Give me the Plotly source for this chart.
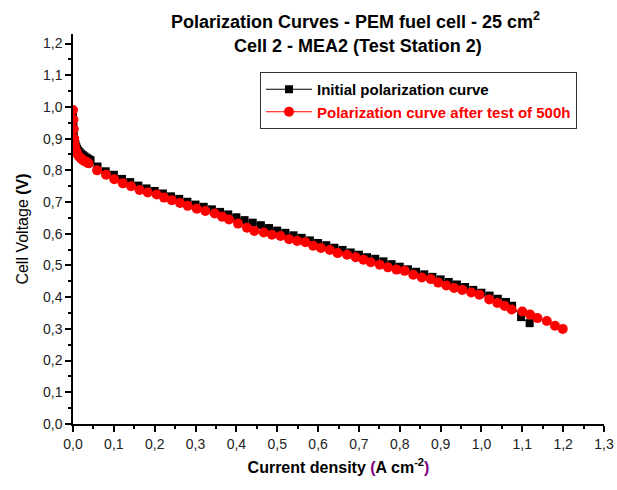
import plotly.graph_objects as go

# Polarization curve after test of 500h (red)
red_j = [0.000, 0.001, 0.002, 0.003, 0.004, 0.006, 0.008, 0.010, 0.013, 0.016, 0.020,
         0.024, 0.028, 0.033, 0.038, 0.059, 0.081, 0.101, 0.122, 0.142, 0.163, 0.183,
         0.205, 0.223, 0.242, 0.262, 0.281, 0.303, 0.324, 0.347, 0.365, 0.382, 0.404,
         0.426, 0.444, 0.467, 0.487, 0.508, 0.529, 0.549, 0.569, 0.588, 0.607, 0.629,
         0.648, 0.671, 0.692, 0.711, 0.729, 0.751, 0.771, 0.792, 0.812, 0.833, 0.854,
         0.876, 0.894, 0.914, 0.933, 0.953, 0.975, 0.995, 1.019, 1.039, 1.057, 1.074,
         1.100, 1.119, 1.137, 1.160, 1.180, 1.199]
red_v = [0.990, 0.960, 0.930, 0.900, 0.880, 0.868, 0.860, 0.853, 0.847, 0.842, 0.837,
         0.833, 0.829, 0.826, 0.822, 0.800, 0.786, 0.772, 0.759, 0.750, 0.738, 0.730,
         0.724, 0.714, 0.706, 0.697, 0.688, 0.679, 0.672, 0.664, 0.654, 0.645, 0.632,
         0.619, 0.609, 0.604, 0.597, 0.593, 0.583, 0.577, 0.573, 0.562, 0.555, 0.549,
         0.539, 0.534, 0.526, 0.518, 0.510, 0.502, 0.494, 0.487, 0.483, 0.471, 0.462,
         0.457, 0.446, 0.437, 0.429, 0.423, 0.415, 0.408, 0.393, 0.382, 0.372, 0.361,
         0.355, 0.345, 0.334, 0.325, 0.310, 0.300]

# Initial polarization curve (black)
blk_j = [0.000, 0.001, 0.002, 0.004, 0.006, 0.008, 0.010, 0.013, 0.016, 0.020, 0.024,
         0.028, 0.033, 0.038, 0.043, 0.060, 0.080, 0.100, 0.120, 0.140, 0.160, 0.180,
         0.200, 0.220, 0.240, 0.260, 0.280, 0.300, 0.320, 0.340, 0.360, 0.380, 0.400,
         0.420, 0.440, 0.460, 0.480, 0.500, 0.520, 0.540, 0.560, 0.580, 0.600, 0.620,
         0.640, 0.660, 0.680, 0.700, 0.720, 0.740, 0.760, 0.780, 0.800, 0.820, 0.840,
         0.860, 0.880, 0.900, 0.920, 0.940, 0.960, 0.980, 1.000, 1.020, 1.040, 1.060,
         1.075, 1.097, 1.118]
blk_v = [0.975, 0.945, 0.915, 0.893, 0.882, 0.874, 0.868, 0.862, 0.857, 0.852, 0.848,
         0.844, 0.840, 0.836, 0.832, 0.812, 0.797, 0.786, 0.773, 0.763, 0.752, 0.743,
         0.735, 0.727, 0.718, 0.710, 0.701, 0.692, 0.685, 0.677, 0.669, 0.661, 0.652,
         0.643, 0.635, 0.627, 0.618, 0.610, 0.603, 0.595, 0.587, 0.579, 0.571, 0.564,
         0.556, 0.549, 0.541, 0.534, 0.526, 0.521, 0.513, 0.504, 0.496, 0.488, 0.480,
         0.472, 0.464, 0.456, 0.448, 0.440, 0.432, 0.423, 0.414, 0.405, 0.395, 0.385,
         0.373, 0.337, 0.318]

series_names = ["Initial polarization curve", "Polarization curve after test of 500h"]
title_lines = ["Polarization Curves - PEM fuel cell - 25 cm<sup>2</sup>",
               "Cell 2 - MEA2 (Test Station 2)"]

x_ticks = [round(0.1 * i, 1) for i in range(14)]
y_ticks = [round(0.1 * i, 1) for i in range(13)]

FONT = "Arial, 'Liberation Sans', sans-serif"

fig = go.Figure()
fig.add_trace(go.Scatter(
    x=blk_j, y=blk_v, mode="lines+markers",
    name="<b>" + series_names[0] + "</b>",
    line=dict(color="black", width=1),
    marker=dict(symbol="square", size=8, color="black"),
))
fig.add_trace(go.Scatter(
    x=red_j, y=red_v, mode="lines+markers",
    name="<b><span style='color:red'>" + series_names[1] + "</span></b>",
    line=dict(color="red", width=1),
    marker=dict(symbol="circle", size=10, color="red"),
))

axis_common = dict(
    showgrid=False, zeroline=False, showline=True, linecolor="black", linewidth=1.5,
    ticks="outside", ticklen=6, tickwidth=1.5, tickcolor="black",
    tickformat=".1f", tickfont=dict(family=FONT, size=14, color="#222"),
    mirror=False, automargin=False,
)

fig.update_layout(
    width=617, height=490,
    margin=dict(l=73, r=13, t=34, b=66),
    paper_bgcolor="white", plot_bgcolor="white",
    separators=", ",
    font=dict(family=FONT, color="black"),
    xaxis=dict(
        range=[0, 1.3], tickvals=x_ticks,
        minor=dict(dtick=0.05, tick0=0, ticks="outside", ticklen=3, tickwidth=1.5, tickcolor="black"),
        title=dict(
            text="<b>Current density <span style='color:#800080'>(</span>A cm<sup>-2</sup><span style='color:#800080'>)</span></b>",
            font=dict(family=FONT, size=16, color="black"), standoff=11,
        ),
        **axis_common,
    ),
    yaxis=dict(
        range=[0, 1.23], tickvals=y_ticks,
        minor=dict(dtick=0.05, tick0=0, ticks="outside", ticklen=3, tickwidth=1.5, tickcolor="black"),
        title=dict(
            text="Cell Voltage <b>(V)</b>",
            font=dict(family=FONT, size=16, color="black"), standoff=10,
        ),
        **axis_common,
    ),
    legend=dict(
        x=(260 - 73) / 531, y=(424 - 72) / 390, xanchor="left", yanchor="top",
        bgcolor="white", bordercolor="#333", borderwidth=1,
        font=dict(family=FONT, size=15, color="black"),
        tracegroupgap=0, itemwidth=46,
    ),
    showlegend=True,
    annotations=[
        dict(text="<b>" + title_lines[0] + "</b>", xref="paper", yref="paper",
             x=(355 - 73) / 531, y=(424 - 21) / 390, showarrow=False,
             xanchor="center", yanchor="middle",
             font=dict(family=FONT, size=18, color="black")),
        dict(text="<b>" + title_lines[1] + "</b>", xref="paper", yref="paper",
             x=(358 - 73) / 531, y=(424 - 46) / 390, showarrow=False,
             xanchor="center", yanchor="middle",
             font=dict(family=FONT, size=18, color="black")),
    ],
)

fig.write_html("out.html")
